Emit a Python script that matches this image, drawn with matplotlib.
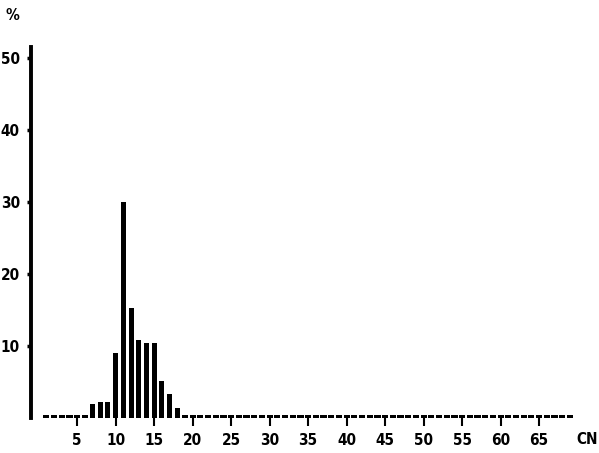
import matplotlib
matplotlib.use("Agg")
import matplotlib.pyplot as plt

carbon_low = [1, 2, 3, 4, 5, 6]
pct_low = [0.35, 0.35, 0.35, 0.35, 0.35, 0.35]

carbon_main = [7, 8, 9, 10, 11, 12, 13, 14, 15, 16, 17, 18]
pct_main = [2.0, 2.2, 2.2, 9.0, 30.0, 15.3, 10.8, 10.4, 10.4, 5.1, 3.3, 1.4]

carbon_high = list(range(19, 70))
pct_high = [0.35, 0.35, 0.35, 0.35, 0.35, 0.35, 0.35, 0.35, 0.35, 0.35,
            0.35, 0.35, 0.35, 0.35, 0.35, 0.35, 0.35, 0.35, 0.35, 0.35,
            0.35, 0.35, 0.35, 0.35, 0.35, 0.35, 0.35, 0.35, 0.35, 0.35,
            0.35, 0.35, 0.35, 0.35, 0.35, 0.35, 0.35, 0.35, 0.35, 0.35,
            0.35, 0.35, 0.35, 0.35, 0.35, 0.35, 0.35, 0.35, 0.35, 0.35,
            0.35]

xticks = [5, 10, 15, 20, 25, 30, 35, 40, 45, 50, 55, 60, 65]
yticks = [10, 20, 30, 40, 50]

fam = ['DejaVu Sans']
fs = dict(fontsize=11, fontweight='bold', family=fam, fontstretch='condensed')

fig = plt.figure(figsize=(5.99, 4.53), dpi=100)
ax = fig.add_axes([31/599, 35/453, 562/599, 371/453])

ax.bar(carbon_low, pct_low, width=0.8, color='black', align='center')
ax.bar(carbon_main, pct_main, width=0.65, color='black', align='center')
ax.bar(carbon_high, pct_high, width=0.8, color='black', align='center')

ax.set_xlim(-1, 72)
ax.set_ylim(0, 51.5)

for s in ['top', 'right', 'bottom']:
    ax.spines[s].set_visible(False)
ax.spines['left'].set_linewidth(2.8)
ax.spines['left'].set_color('black')

ax.set_xticks(xticks)
ax.set_xticklabels([str(t) for t in xticks], **fs)
ax.set_yticks(yticks)
ax.set_yticklabels([str(t) for t in yticks], **fs)
ax.tick_params(axis='x', direction='out', length=6, width=1.5, pad=5, colors='black')
ax.tick_params(axis='y', direction='out', length=3, width=2.5, pad=5, colors='black')

fig.text(12/599, 1 - 15/453, '%', ha='center', va='center', **fs)
fig.text(587/599, 1 - 440/453, 'CN', ha='center', va='center', **fs)

fig.savefig('out.png', dpi=100)
